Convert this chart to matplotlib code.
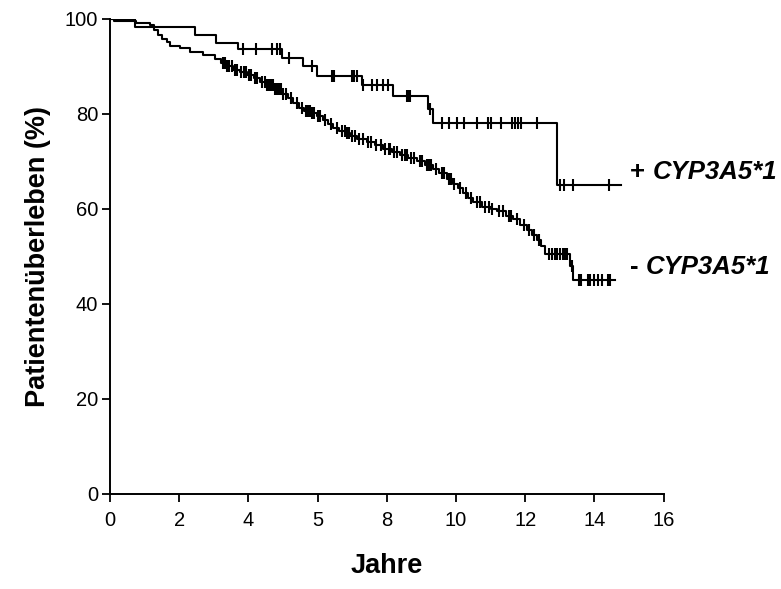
import matplotlib.pyplot as plt
import numpy as np

plt.rcParams['font.family'] = ['Liberation Sans', 'DejaVu Sans']

# + CYP3A5*1 : step times (years) and survival (%) after each step
plus_t = [0.72, 2.46, 3.06, 3.71, 4.96, 5.58, 5.97, 7.27, 8.17, 9.20, 9.32, 12.91]
plus_s = [98.4, 96.6, 94.9, 93.6, 91.8, 90.1, 88.0, 86.0, 83.8, 81.0, 78.0, 65.0]
plus_end = 14.76
plus_cens = [3.84, 4.22, 4.68, 4.83, 4.91, 5.18, 5.83, 6.43, 6.48, 6.98, 7.06, 7.13,
             7.32, 7.56, 7.73, 7.90, 8.04, 8.57, 8.62, 8.66, 9.25, 9.59, 9.81, 10.02,
             10.24, 10.60, 10.93, 11.00, 11.30, 11.61, 11.71, 11.80, 11.87, 12.35,
             12.99, 13.12, 13.39, 14.42]

# - CYP3A5*1
minus_t = [0.12, 0.75, 1.16, 1.28, 1.38, 1.50, 1.64, 1.73, 2.02, 2.31, 2.70, 3.03,
           3.20, 3.35, 3.56, 3.75, 3.95, 4.15, 4.34, 4.50, 4.72, 4.95, 5.15, 5.30,
           5.45, 5.60, 5.80, 5.97, 6.15, 6.30, 6.45, 6.62, 6.80, 6.94, 7.15, 7.42,
           7.65, 7.90, 8.15, 8.38, 8.62, 8.86, 9.10, 9.34, 9.50, 9.73, 9.90, 10.05,
           10.21, 10.35, 10.50, 10.75, 11.00, 11.18, 11.45, 11.66, 11.85, 12.04,
           12.20, 12.33, 12.45, 12.57, 13.29, 13.39]
minus_s = [99.5, 99.1, 98.7, 97.6, 96.6, 95.8, 95.2, 94.4, 93.8, 93.1, 92.4, 91.5,
           90.8, 90.1, 89.3, 88.8, 88.2, 87.5, 86.8, 86.0, 85.3, 84.3, 83.3, 82.4,
           81.3, 80.6, 80.1, 79.6, 78.7, 77.8, 77.1, 76.5, 76.0, 75.4, 74.8, 74.1,
           73.4, 72.7, 72.0, 71.3, 70.7, 70.1, 69.3, 68.5, 67.5, 66.3, 65.3, 64.4,
           63.3, 62.3, 61.4, 60.5, 60.0, 59.5, 58.6, 57.8, 56.7, 55.5,
           54.5, 53.4, 52.2, 50.6, 47.9, 45.1]
minus_end = 14.6
minus_cens = [3.27, 3.33, 3.38, 3.45, 3.52, 3.60, 3.68, 3.80, 3.88, 3.93, 4.02, 4.08,
              4.18, 4.25, 4.40, 4.47, 4.55, 4.60, 4.66, 4.70, 4.78, 4.82, 4.88, 4.93,
              5.00, 5.08, 5.22, 5.40, 5.55, 5.65, 5.72, 5.78, 5.85, 5.90, 6.00, 6.08,
              6.20, 6.40, 6.55, 6.70, 6.78, 6.86, 6.92, 7.00, 7.08, 7.20, 7.30, 7.45,
              7.55, 7.70, 7.82, 7.95, 8.05, 8.10, 8.20, 8.30, 8.45, 8.52, 8.58, 8.70,
              8.78, 8.95, 9.02, 9.15, 9.22, 9.28, 9.42, 9.58, 9.65, 9.80, 9.86, 9.95,
              10.10, 10.28, 10.42, 10.60, 10.70, 10.85, 10.95, 11.05, 11.25, 11.35,
              11.52, 11.60, 11.75, 11.95, 12.10, 12.25, 12.40, 12.70, 12.78, 12.85,
              12.92, 13.00, 13.08, 13.15, 13.22, 13.35, 13.55, 13.62, 13.80, 13.88,
              14.00, 14.10, 14.22, 14.38, 14.45]

xtick_pos = [0, 2, 4, 6, 8, 10, 12, 14, 16]
xtick_lab = ['0', '2', '4', '5', '8', '10', '12', '14', '16']
ytick_pos = [0, 20, 40, 60, 80, 100]


def drawKM(ax, times, surv, end, cens):
    x = np.array([0] + times + [end])
    y = np.array([100] + surv + [surv[-1]])
    ax.step(x, y, where='post', color='black', lw=1.5)
    idx = np.searchsorted(x, cens, side='right') - 1
    ax.plot(cens, y[idx], ls='none', marker='|', ms=9, mew=1.5, color='black')


fig = plt.figure(figsize=(7.81, 5.89), dpi=100)
ax = fig.add_axes([0.1408, 0.1613, 0.709, 0.8065])

drawKM(ax, plus_t, plus_s, plus_end, plus_cens)
drawKM(ax, minus_t, minus_s, minus_end, minus_cens)

ax.set_xlim(0, 16)
ax.set_ylim(0, 100)
ax.set_xticks(xtick_pos)
ax.set_xticklabels(xtick_lab)
ax.set_yticks(ytick_pos)
ax.tick_params(direction='out', length=5.5, width=1.3, labelsize=14.5)
ax.tick_params(axis='x', pad=7)
ax.tick_params(axis='y', pad=3)
for s in ['top', 'right']:
    ax.spines[s].set_visible(False)
for s in ['left', 'bottom']:
    ax.spines[s].set_linewidth(1.4)

ax.set_xlabel('Jahre', fontsize=19.5, fontweight='bold', labelpad=16)
ax.set_ylabel('Patientenüberleben (%)', fontsize=19.5, fontweight='bold', labelpad=10)

t1 = ax.text(15.03, 67.8, '+ ', fontsize=18.5, fontweight='bold', va='center', ha='left', clip_on=False)
ax.annotate('CYP3A5*1', xy=(1, 0), xycoords=t1, fontsize=18.5, fontweight='bold',
            fontstyle='italic', va='bottom', ha='left', annotation_clip=False)
t2 = ax.text(15.03, 47.8, '- ', fontsize=18.5, fontweight='bold', va='center', ha='left', clip_on=False)
ax.annotate('CYP3A5*1', xy=(1, 0), xycoords=t2, fontsize=18.5, fontweight='bold',
            fontstyle='italic', va='bottom', ha='left', annotation_clip=False)

plt.savefig('out.png')
